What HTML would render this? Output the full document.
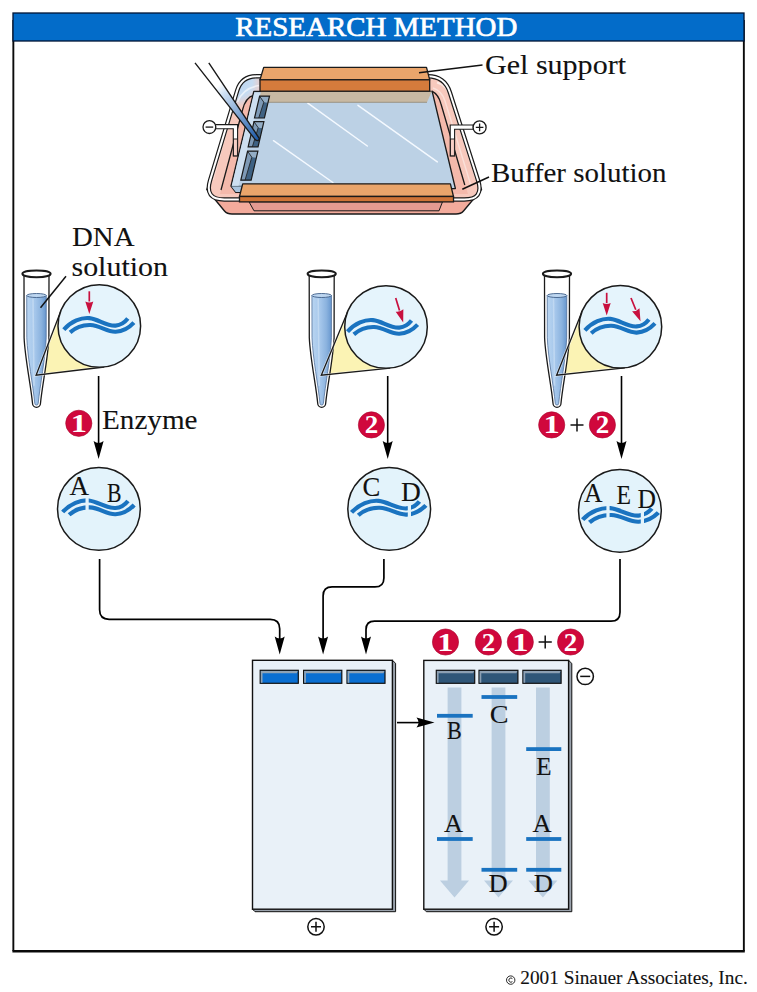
<!DOCTYPE html>
<html><head><meta charset="utf-8">
<style>
html,body{margin:0;padding:0;background:#fff;}
svg{display:block;}
text{font-family:"Liberation Serif",serif;}
</style></head>
<body>
<svg width="757" height="992" viewBox="0 0 757 992">
<defs>
  <linearGradient id="liq" x1="0" x2="1" y1="0" y2="0">
    <stop offset="0" stop-color="#b9d5f1"/>
    <stop offset="0.45" stop-color="#a3c5ea"/>
    <stop offset="0.75" stop-color="#8ab2de"/>
    <stop offset="1" stop-color="#6797cf"/>
  </linearGradient>
  <linearGradient id="pip" gradientUnits="userSpaceOnUse" x1="215" y1="88" x2="257" y2="140">
    <stop offset="0" stop-color="#ffffff"/>
    <stop offset="0.15" stop-color="#cfe1f4"/>
    <stop offset="1" stop-color="#1d5aa8"/>
  </linearGradient>
  <g id="wave">
    <path d="M-35.5,3.6 C-28,-4.7 -18,-8.7 -10,-7.9 C-1,-7 7,0.3 16.3,-0.4 C22,-0.8 26,-4.2 28.5,-7.4" fill="none" stroke="#1a73c0" stroke-width="4.1"/>
    <path d="M-29.2,6.4 C-22.7,0.6 -16,-1.2 -9,-1.0 C1,-0.4 8,6.2 16.3,5.8 C24,5.4 30.5,1 34.6,-3.4" fill="none" stroke="#1a73c0" stroke-width="4.1"/>
  </g>
</defs>

<path d="M13.35,20 V951 M743.85,20 V951" stroke="#0a0a0a" stroke-width="1.9" fill="none"/>
<path d="M12.4,951.3 H744.8" stroke="#0a0a0a" stroke-width="2.6"/>
<rect x="13" y="13" width="731" height="28" fill="#036cc9" stroke="#001535" stroke-width="1.3"/>
<text x="235.3" y="36" font-size="27.5" fill="#fff" stroke="#fff" stroke-width="0.65" textLength="282" lengthAdjust="spacingAndGlyphs">RESEARCH METHOD</text>
<path d="M214,172 L206.8,189.5 L224.5,211 Q227,214 232,214 L456,214 Q461,214 463.5,211 L481.5,189.5 L474,172 Z" fill="#f3ab9c" stroke="#1a1a1a" stroke-width="1.4" stroke-linejoin="round"/>
<path d="M256.50,76.30 L427.70,76.30 Q444.70,76.30 449.89,92.49 L478.09,180.45 Q484.20,199.50 464.20,199.50 L224.30,199.50 Q204.30,199.50 210.08,180.35 L237.16,90.66 Q241.50,76.30 256.50,76.30 Z" fill="#f7c9bd"/>
<radialGradient id="bluetint" gradientUnits="userSpaceOnUse" cx="238" cy="82" r="26"><stop offset="0" stop-color="#bcd6f2"/><stop offset="0.55" stop-color="#c6dcf2"/><stop offset="1" stop-color="#c6dcf2" stop-opacity="0"/></radialGradient>
<clipPath id="rimclip"><path d="M256.50,76.30 L427.70,76.30 Q444.70,76.30 449.89,92.49 L478.09,180.45 Q484.20,199.50 464.20,199.50 L224.30,199.50 Q204.30,199.50 210.08,180.35 L237.16,90.66 Q241.50,76.30 256.50,76.30 Z"/></clipPath>
<path d="M220,70 H270 V115 H220 Z" fill="url(#bluetint)" clip-path="url(#rimclip)"/>
<path d="M237.5,102 Q243,88 259,85.5" fill="none" stroke="#fff" stroke-width="1.6" opacity="0.6"/>
<path d="M437,82.5 Q447,85 450,96 L476,178" fill="none" stroke="#fdeae5" stroke-width="2.2"/>
<path d="M433,88 Q442,91 445,101 L470.5,184" fill="none" stroke="#fbe0d9" stroke-width="1.4"/>
<path d="M213,180 L232,112" fill="none" stroke="#fbe0d9" stroke-width="1.4" opacity="0.8"/>
<path d="M256.50,76.30 L427.70,76.30 Q444.70,76.30 449.89,92.49 L478.09,180.45 Q484.20,199.50 464.20,199.50 L224.30,199.50 Q204.30,199.50 210.08,180.35 L237.16,90.66 Q241.50,76.30 256.50,76.30 Z" fill="none" stroke="#1a1a1a" stroke-width="4.4"/>
<path d="M256.50,76.30 L427.70,76.30 Q444.70,76.30 449.89,92.49 L478.09,180.45 Q484.20,199.50 464.20,199.50 L224.30,199.50 Q204.30,199.50 210.08,180.35 L237.16,90.66 Q241.50,76.30 256.50,76.30 Z" fill="none" stroke="#fff" stroke-width="2.0"/>
<path d="M254,95.2 Q245.5,97.5 242.5,110 L220,194 L468,194 L441,104 Q437.5,93 430,91.5 Z" fill="#f4b9ab"/>
<path d="M254,95.2 Q245.5,97.5 242.5,110 L221,190" fill="none" stroke="#1a1a1a" stroke-width="1.3"/>
<path d="M432,91.2 Q438.5,94.5 441,104 L464.8,185" fill="none" stroke="#1a1a1a" stroke-width="1.3"/>
<path d="M215.5,124.6 H237.6 V156 H233.3 V128.8 H215.5 Z" fill="#fff" stroke="#1a1a1a" stroke-width="1.1"/>
<rect x="233.5" y="139" width="3.9" height="16.8" fill="#f6cfc6" stroke="#1a1a1a" stroke-width="0.9"/>
<circle cx="209.4" cy="127.1" r="6.4" fill="#fff" stroke="#1a1a1a" stroke-width="1.3"/>
<path d="M205.6,127.1 H213.2" stroke="#1a1a1a" stroke-width="1.3"/>
<path d="M473.3,125 H450.2 V156 H454.6 V129.2 H473.3 Z" fill="#fff" stroke="#1a1a1a" stroke-width="1.1"/>
<rect x="450.5" y="139" width="3.9" height="16.8" fill="#f6cfc6" stroke="#1a1a1a" stroke-width="0.9"/>
<circle cx="479.6" cy="127.4" r="6.5" fill="#fff" stroke="#1a1a1a" stroke-width="1.3"/>
<path d="M475.8,127.4 H483.4 M479.6,123.6 V131.2" stroke="#1a1a1a" stroke-width="1.3"/>
<path d="M253.8,91.5 L432.2,91.5 L455.4,188.5 L243,192.3 L235.8,192.3 L231,186 Z" fill="#bcd1e5" stroke="#1a1a1a" stroke-width="1.3" stroke-linejoin="round"/>
<path d="M231.5,186.4 L243,186.4 L243,192 L235.8,192 Z" fill="#a9c4de"/>
<path d="M231.5,186.2 L243,186.2" stroke="#4a5a6a" stroke-width="0.9"/>
<path d="M254.4,92.2 L261,92.2 L238.5,185.7 L231.9,185.7 Z" fill="#cddff0" stroke="none"/>
<g stroke="#f4f9ff" stroke-width="1.5" stroke-linecap="round">
<line x1="307.8" y1="103.2" x2="367.3" y2="146"/>
<line x1="358" y1="105.3" x2="437.3" y2="161.9"/>
<line x1="273.5" y1="140.7" x2="332.9" y2="182.5"/>
</g>
<path d="M261,91.5 L431.8,91.5 L427,102.3 L258.4,102.3 Z" fill="#c8b9a3"/>
<path d="M427,102.3 L258.4,102.3" stroke="#8f8674" stroke-width="0.8"/>
<path d="M259.6,96.2 L269.5,96.2 L264.42060000000004,118.0 L254.52060000000003,118.0 Z" fill="#3f6283"/>
<path d="M259.6,96.2 L263.8,102.2 L258.72060000000005,118.0 L254.52060000000003,118.0 Z" fill="#7e9ab6"/>
<path d="M259.6,96.2 L269.5,96.2 L267.9,102.7 L263.8,102.2 Z" fill="#93adc5"/>
<path d="M259.6,96.2 L263.8,102.2 L258.72060000000005,118.0" fill="none" stroke="#1a1a1a" stroke-width="0.8"/>
<path d="M259.6,96.2 L269.5,96.2 L264.42060000000004,118.0 L254.52060000000003,118.0 Z" fill="none" stroke="#1a1a1a" stroke-width="1.2"/>
<path d="M254.0,121.7 L263.9,121.7 L258.0517,146.8 L248.1517,146.8 Z" fill="#3f6283"/>
<path d="M254.0,121.7 L258.2,127.7 L252.3517,146.8 L248.1517,146.8 Z" fill="#7e9ab6"/>
<path d="M254.0,121.7 L263.9,121.7 L262.29999999999995,128.2 L258.2,127.7 Z" fill="#93adc5"/>
<path d="M254.0,121.7 L258.2,127.7 L252.3517,146.8" fill="none" stroke="#1a1a1a" stroke-width="0.8"/>
<path d="M254.0,121.7 L263.9,121.7 L258.0517,146.8 L248.1517,146.8 Z" fill="none" stroke="#1a1a1a" stroke-width="1.2"/>
<path d="M247.6,151.2 L257.9,151.2 L251.143,180.2 L240.843,180.2 Z" fill="#3f6283"/>
<path d="M247.6,151.2 L251.79999999999998,157.2 L245.04299999999998,180.2 L240.843,180.2 Z" fill="#7e9ab6"/>
<path d="M247.6,151.2 L257.9,151.2 L256.29999999999995,157.7 L251.79999999999998,157.2 Z" fill="#93adc5"/>
<path d="M247.6,151.2 L251.79999999999998,157.2 L245.04299999999998,180.2" fill="none" stroke="#1a1a1a" stroke-width="0.8"/>
<path d="M247.6,151.2 L257.9,151.2 L251.143,180.2 L240.843,180.2 Z" fill="none" stroke="#1a1a1a" stroke-width="1.2"/>
<path d="M263.7,67.4 L426.5,67.4 L429.7,79.8 L260,79.8 Z" fill="#eaa56b" stroke="#1a1a1a" stroke-width="1.3" stroke-linejoin="round"/>
<rect x="260" y="79.8" width="169.7" height="11.4" fill="#d57b3c" stroke="#1a1a1a" stroke-width="1.3"/>
<path d="M249,201.8 L442.5,201.8 L439,210.8 L254,210.8 Z" fill="#e49a91" stroke="#1a1a1a" stroke-width="1"/>
<path d="M242.7,183.8 L450.4,183.8 L453.5,196.5 L239.5,196.5 Z" fill="#eaa56b" stroke="#1a1a1a" stroke-width="1.3" stroke-linejoin="round"/>
<rect x="239.5" y="196.5" width="214" height="5.4" fill="#cf7437" stroke="#1a1a1a" stroke-width="1.3"/>
<path d="M195,62.9 L255.2,139.6 Q258.5,142 259.4,138.6 L208.8,62.9" fill="url(#pip)" stroke="none"/>
<path d="M195,62.9 L255.2,139.6 Q258.5,142 259.4,138.6 L208.8,62.9" fill="none" stroke="#1a1a1a" stroke-width="1.4"/>
<text x="485" y="74.0" font-size="27" fill="#111" textLength="141" lengthAdjust="spacingAndGlyphs" stroke="#111" stroke-width="0.1">Gel support</text>
<line x1="419" y1="72.8" x2="482.5" y2="65" stroke="#111" stroke-width="1.5"/>
<line x1="462.3" y1="189.2" x2="489" y2="177" stroke="#111" stroke-width="1.5"/>
<text x="491" y="181.5" font-size="27" fill="#111" textLength="175.5" lengthAdjust="spacingAndGlyphs" stroke="#111" stroke-width="0.1">Buffer solution</text>
<text x="72" y="245.7" font-size="27" fill="#111" textLength="62.5" lengthAdjust="spacingAndGlyphs" stroke="#111" stroke-width="0.1">DNA</text>
<text x="71.5" y="275.5" font-size="27" fill="#111" textLength="96.5" lengthAdjust="spacingAndGlyphs" stroke="#111" stroke-width="0.1">solution</text>
<path d="M36.1,375.2 L60.76,311.16 L99.3,326.0 L104.23,367.00 Z" fill="#fbf3b4" stroke="none"/>
<path d="M24.0,273.8 L24.1,337.8 C24.9,357.8 30.9,385.8 32.5,403.3 A4.0,4.0 0 0 0 40.5,403.3 C42.1,385.8 48.1,357.8 48.9,337.8 L49.0,273.8 Z" fill="#fff" stroke="#1a1a1a" stroke-width="1.3"/>
<clipPath id="lq36"><rect x="16.5" y="295.5" width="40" height="200"/></clipPath>
<path d="M26.7,273.8 L26.8,337.8 C27.6,357.8 33.06,385.8 34.795,403.3 A1.705,1.705 0 0 0 38.205,403.3 C39.94,385.8 45.4,357.8 46.2,337.8 L46.3,273.8 Z" fill="url(#liq)" stroke="#51709a" stroke-width="0.8" clip-path="url(#lq36)"/>
<path d="M33.0,298.5 L34.0,385.8" stroke="#cfe2f6" stroke-width="1.6" opacity="0.6"/>
<ellipse cx="36.5" cy="295.5" rx="9.8" ry="2.0" fill="#bdd6f0" stroke="#3f5f88" stroke-width="0.9"/>
<ellipse cx="36.5" cy="273.8" rx="14.1" ry="3.4" fill="#fff" stroke="#1a1a1a" stroke-width="2.0"/>
<path d="M60.76,311.16 L36.1,375.2 L104.23,367.00" fill="none" stroke="#fff" stroke-width="2.6" stroke-linejoin="miter" opacity="0.6"/>
<path d="M60.76,311.16 L36.1,375.2 L104.23,367.00" fill="none" stroke="#1a1a1a" stroke-width="1.3" stroke-linejoin="miter"/>
<circle cx="99.3" cy="326.0" r="41.3" fill="#e5f4fc" stroke="#1a1a1a" stroke-width="1.5"/>
<path d="M321.3,375.2 L347.85,311.18 L386.0,327.0 L390.24,368.08 Z" fill="#fbf3b4" stroke="none"/>
<path d="M309.2,273.8 L309.3,337.8 C310.09999999999997,357.8 316.09999999999997,385.8 317.7,403.3 A4.0,4.0 0 0 0 325.7,403.3 C327.3,385.8 333.3,357.8 334.09999999999997,337.8 L334.2,273.8 Z" fill="#fff" stroke="#1a1a1a" stroke-width="1.3"/>
<clipPath id="lq321"><rect x="301.7" y="295.5" width="40" height="200"/></clipPath>
<path d="M311.9,273.8 L312.0,337.8 C312.8,357.8 318.26,385.8 319.995,403.3 A1.705,1.705 0 0 0 323.405,403.3 C325.14,385.8 330.59999999999997,357.8 331.4,337.8 L331.5,273.8 Z" fill="url(#liq)" stroke="#51709a" stroke-width="0.8" clip-path="url(#lq321)"/>
<path d="M318.2,298.5 L319.2,385.8" stroke="#cfe2f6" stroke-width="1.6" opacity="0.6"/>
<ellipse cx="321.7" cy="295.5" rx="9.8" ry="2.0" fill="#bdd6f0" stroke="#3f5f88" stroke-width="0.9"/>
<ellipse cx="321.7" cy="273.8" rx="14.1" ry="3.4" fill="#fff" stroke="#1a1a1a" stroke-width="2.0"/>
<path d="M347.85,311.18 L321.3,375.2 L390.24,368.08" fill="none" stroke="#fff" stroke-width="2.6" stroke-linejoin="miter" opacity="0.6"/>
<path d="M347.85,311.18 L321.3,375.2 L390.24,368.08" fill="none" stroke="#1a1a1a" stroke-width="1.3" stroke-linejoin="miter"/>
<circle cx="386.0" cy="327.0" r="41.3" fill="#e5f4fc" stroke="#1a1a1a" stroke-width="1.5"/>
<path d="M556.6,375.2 L582.05,311.48 L620.4,326.8 L624.82,367.86 Z" fill="#fbf3b4" stroke="none"/>
<path d="M544.5,273.8 L544.6,337.8 C545.4,357.8 551.4,385.8 553.0,403.3 A4.0,4.0 0 0 0 561.0,403.3 C562.6,385.8 568.6,357.8 569.4,337.8 L569.5,273.8 Z" fill="#fff" stroke="#1a1a1a" stroke-width="1.3"/>
<clipPath id="lq557"><rect x="537.0" y="295.5" width="40" height="200"/></clipPath>
<path d="M547.2,273.8 L547.3,337.8 C548.1,357.8 553.56,385.8 555.295,403.3 A1.705,1.705 0 0 0 558.705,403.3 C560.44,385.8 565.9,357.8 566.7,337.8 L566.8,273.8 Z" fill="url(#liq)" stroke="#51709a" stroke-width="0.8" clip-path="url(#lq557)"/>
<path d="M553.5,298.5 L554.5,385.8" stroke="#cfe2f6" stroke-width="1.6" opacity="0.6"/>
<ellipse cx="557.0" cy="295.5" rx="9.8" ry="2.0" fill="#bdd6f0" stroke="#3f5f88" stroke-width="0.9"/>
<ellipse cx="557.0" cy="273.8" rx="14.1" ry="3.4" fill="#fff" stroke="#1a1a1a" stroke-width="2.0"/>
<path d="M582.05,311.48 L556.6,375.2 L624.82,367.86" fill="none" stroke="#fff" stroke-width="2.6" stroke-linejoin="miter" opacity="0.6"/>
<path d="M582.05,311.48 L556.6,375.2 L624.82,367.86" fill="none" stroke="#1a1a1a" stroke-width="1.3" stroke-linejoin="miter"/>
<circle cx="620.4" cy="326.8" r="41.3" fill="#e5f4fc" stroke="#1a1a1a" stroke-width="1.5"/>
<line x1="66" y1="276.3" x2="40.5" y2="307.7" stroke="#111" stroke-width="1.5"/>
<g transform="translate(99.3,326.0) scale(1.0,1)"><use href="#wave"/></g>
<g transform="translate(383.0,328.0) scale(1.0,1)"><use href="#wave"/></g>
<g transform="translate(620.4,326.8) scale(1.0,1)"><use href="#wave"/></g>
<line x1="89.3" y1="291.3" x2="89.30" y2="301.50" stroke="#c8103e" stroke-width="1.7"/>
<path d="M89.3,314 L85.30,301.50 Q89.30,303.50 93.30,301.50 Z" fill="#c8103e"/>
<line x1="395.7" y1="298" x2="399.53" y2="310.45" stroke="#c8103e" stroke-width="1.7"/>
<path d="M403.2,322.4 L395.70,311.63 Q400.11,312.36 403.35,309.28 Z" fill="#c8103e"/>
<line x1="606.7" y1="292.8" x2="606.70" y2="303.10" stroke="#c8103e" stroke-width="1.7"/>
<path d="M606.7,315.6 L602.70,303.10 Q606.70,305.10 610.70,303.10 Z" fill="#c8103e"/>
<line x1="631" y1="298" x2="635.78" y2="309.73" stroke="#c8103e" stroke-width="1.7"/>
<path d="M640.5,321.3 L632.08,311.24 Q636.54,311.58 639.48,308.21 Z" fill="#c8103e"/>
<line x1="98.6" y1="376" x2="98.6" y2="445" stroke="#000" stroke-width="1.6"/>
<path d="M98.6,459 L93.6,441 Q98.6,445 103.6,441 Z" fill="#000"/>
<line x1="387.7" y1="376" x2="387.7" y2="445" stroke="#000" stroke-width="1.6"/>
<path d="M387.7,459 L382.7,441 Q387.7,445 392.7,441 Z" fill="#000"/>
<line x1="621.5" y1="376" x2="621.5" y2="445" stroke="#000" stroke-width="1.6"/>
<path d="M621.5,459 L616.5,441 Q621.5,445 626.5,441 Z" fill="#000"/>
<text x="102" y="428.6" font-size="27.5" fill="#111" textLength="95.5" lengthAdjust="spacingAndGlyphs" stroke="#111" stroke-width="0.1">Enzyme</text>
<circle cx="78.8" cy="423.3" r="13.1" fill="#d0083c" stroke="#a8062e" stroke-width="0.6"/>
<text transform="translate(78.8,431.8) scale(1.3,1)" x="0" y="0" font-size="25" font-weight="bold" fill="#fff" text-anchor="middle">1</text>
<circle cx="371.4" cy="424.9" r="13.1" fill="#d0083c" stroke="#a8062e" stroke-width="0.6"/>
<text transform="translate(371.4,433.4) scale(1.08,1)" x="0" y="0" font-size="25" font-weight="bold" fill="#fff" text-anchor="middle">2</text>
<circle cx="551.7" cy="424.9" r="13.1" fill="#d0083c" stroke="#a8062e" stroke-width="0.6"/>
<text transform="translate(551.7,433.4) scale(1.3,1)" x="0" y="0" font-size="25" font-weight="bold" fill="#fff" text-anchor="middle">1</text>
<circle cx="602.4" cy="424.9" r="13.1" fill="#d0083c" stroke="#a8062e" stroke-width="0.6"/>
<text transform="translate(602.4,433.4) scale(1.08,1)" x="0" y="0" font-size="25" font-weight="bold" fill="#fff" text-anchor="middle">2</text>
<path d="M570.5,425 H583.5 M577,418.5 V431.5" stroke="#111" stroke-width="1.5"/>
<circle cx="98.9" cy="508.9" r="41.4" fill="#e3f3fb" stroke="#1a1a1a" stroke-width="1.5"/>
<circle cx="389.2" cy="508.9" r="41.4" fill="#e3f3fb" stroke="#1a1a1a" stroke-width="1.5"/>
<circle cx="619.9" cy="510.8" r="41.4" fill="#e3f3fb" stroke="#1a1a1a" stroke-width="1.5"/>
<clipPath id="cut98_508"><rect x="38.900000000000006" y="478.4" width="46.6" height="60"/><rect x="88.7" y="478.4" width="70.2" height="60"/></clipPath>
<g clip-path="url(#cut98_508)"><g transform="translate(98.9,508.4) scale(1.02,1)"><use href="#wave"/></g></g>
<clipPath id="cut389_508"><rect x="329.2" y="478.8" width="78.6" height="60"/><rect x="411.0" y="478.8" width="38.2" height="60"/></clipPath>
<g clip-path="url(#cut389_508)"><g transform="translate(389.2,508.8) scale(1.06,1)"><use href="#wave"/></g></g>
<clipPath id="cut621_516"><rect x="561.0" y="486.0" width="45.4" height="60"/><rect x="609.6" y="486.0" width="31.199999999999996" height="60"/><rect x="644.0" y="486.0" width="37.0" height="60"/></clipPath>
<g clip-path="url(#cut621_516)"><g transform="translate(621.0,516.0) scale(1.08,1)"><use href="#wave"/></g></g>
<text x="69.5" y="495" font-size="27" fill="#111" textLength="19.5" lengthAdjust="spacingAndGlyphs" stroke="#111" stroke-width="0.1">A</text>
<text x="107" y="502" font-size="27" fill="#111" textLength="14.5" lengthAdjust="spacingAndGlyphs" stroke="#111" stroke-width="0.1">B</text>
<text x="362.5" y="496.3" font-size="27" fill="#111" textLength="17.8" lengthAdjust="spacingAndGlyphs" stroke="#111" stroke-width="0.1">C</text>
<text x="401" y="501" font-size="27" fill="#111" textLength="19.8" lengthAdjust="spacingAndGlyphs" stroke="#111" stroke-width="0.1">D</text>
<text x="584" y="502.3" font-size="27" fill="#111" textLength="18.5" lengthAdjust="spacingAndGlyphs" stroke="#111" stroke-width="0.1">A</text>
<text x="616.5" y="503.6" font-size="27" fill="#111" textLength="14.5" lengthAdjust="spacingAndGlyphs" stroke="#111" stroke-width="0.1">E</text>
<text x="637.5" y="508.2" font-size="27" fill="#111" textLength="18.5" lengthAdjust="spacingAndGlyphs" stroke="#111" stroke-width="0.1">D</text>
<g stroke="#000" stroke-width="1.7" fill="none">
<path d="M99.6,559 V609.8 Q99.6,619.3 109.1,619.3 H270.2 Q279.7,619.3 279.7,628.8 V642"/>
<path d="M383.9,559 V577.9 Q383.9,586.9 374.9,586.9 H332.1 Q323.1,586.9 323.1,595.9 V642"/>
<path d="M620,559 V612.2 Q620,621.2 611,621.2 H374.5 Q366,621.2 366,629.7 V642"/>
</g>
<path d="M279.7,654.6 L274.7,636.6 Q279.7,640.6 284.7,636.6 Z" fill="#000"/>
<path d="M323.1,654.6 L318.1,636.6 Q323.1,640.6 328.1,636.6 Z" fill="#000"/>
<path d="M366.0,654.6 L361.0,636.6 Q366.0,640.6 371.0,636.6 Z" fill="#000"/>
<path d="M392.4,660.3 L395.59999999999997,663.3 L395.59999999999997,911.7 L255.0,911.7 L252.5,909.2 Z" fill="#9aa2ac" stroke="#111" stroke-width="1"/>
<rect x="252.5" y="660.3" width="139.89999999999998" height="248.9000000000001" fill="#e9f1f8" stroke="#111" stroke-width="1.4"/>
<rect x="260.2" y="670.3" width="38.10000000000002" height="13" fill="#0a6fd2" stroke="#111" stroke-width="1.2"/>
<path d="M260.8,670.9 H297.7 L296.8,673.3 H262.5 V682.7 L260.8,682.7 Z" fill="#8fa3b6"/>
<rect x="303.6" y="670.3" width="38.19999999999999" height="13" fill="#0a6fd2" stroke="#111" stroke-width="1.2"/>
<path d="M304.20000000000005,670.9 H341.2 L340.3,673.3 H305.90000000000003 V682.7 L304.20000000000005,682.7 Z" fill="#8fa3b6"/>
<rect x="347" y="670.3" width="38" height="13" fill="#0a6fd2" stroke="#111" stroke-width="1.2"/>
<path d="M347.6,670.9 H384.4 L383.5,673.3 H349.3 V682.7 L347.6,682.7 Z" fill="#8fa3b6"/>
<path d="M568.6,660.4 L571.8000000000001,663.4 L571.8000000000001,911.7 L426.3,911.7 L423.8,909.2 Z" fill="#9aa2ac" stroke="#111" stroke-width="1"/>
<rect x="423.8" y="660.4" width="144.8" height="248.80000000000007" fill="#e9f1f8" stroke="#111" stroke-width="1.4"/>
<rect x="436.3" y="670.3" width="38.39999999999998" height="13" fill="#2f5678" stroke="#111" stroke-width="1.2"/>
<path d="M436.90000000000003,670.9 H474.09999999999997 L473.2,673.3 H438.6 V682.7 L436.90000000000003,682.7 Z" fill="#8da0b3"/>
<rect x="479" y="670.3" width="38.89999999999998" height="13" fill="#2f5678" stroke="#111" stroke-width="1.2"/>
<path d="M479.6,670.9 H517.3 L516.4,673.3 H481.3 V682.7 L479.6,682.7 Z" fill="#8da0b3"/>
<rect x="522.9" y="670.3" width="38.200000000000045" height="13" fill="#2f5678" stroke="#111" stroke-width="1.2"/>
<path d="M523.5,670.9 H560.5 L559.6,673.3 H525.1999999999999 V682.7 L523.5,682.7 Z" fill="#8da0b3"/>
<path d="M447.6,687.6 H461.4 V880.4 H469.0 L454.5,897.4 L440.0,880.4 H447.6 Z" fill="#bccfe1"/>
<path d="M491.6,687.6 H505.4 V880.4 H513.0 L498.5,897.4 L484.0,880.4 H491.6 Z" fill="#bccfe1"/>
<path d="M536.0,687.6 H549.8 V880.4 H557.4 L542.9,897.4 L528.4,880.4 H536.0 Z" fill="#bccfe1"/>
<rect x="437" y="713.9" width="35.69999999999999" height="3.8" fill="#1a73c0"/>
<rect x="481.5" y="695.1" width="35.700000000000045" height="3.8" fill="#1a73c0"/>
<rect x="526.2" y="747.2" width="35.09999999999991" height="3.8" fill="#1a73c0"/>
<rect x="437" y="837.1" width="35.69999999999999" height="3.8" fill="#1a73c0"/>
<rect x="526.2" y="837.1" width="35.09999999999991" height="3.8" fill="#1a73c0"/>
<rect x="481.5" y="867.9" width="35.700000000000045" height="3.8" fill="#1a73c0"/>
<rect x="526.2" y="867.9" width="35.09999999999991" height="3.8" fill="#1a73c0"/>
<text x="447" y="739.1" font-size="25" fill="#111" textLength="14.8" lengthAdjust="spacingAndGlyphs" stroke="#111" stroke-width="0.1">B</text>
<text x="489.8" y="723.3" font-size="25" fill="#111" textLength="18.8" lengthAdjust="spacingAndGlyphs" stroke="#111" stroke-width="0.1">C</text>
<text x="536.2" y="775" font-size="25" fill="#111" textLength="15.3" lengthAdjust="spacingAndGlyphs" stroke="#111" stroke-width="0.1">E</text>
<text x="444" y="832.2" font-size="26" fill="#111" textLength="19" lengthAdjust="spacingAndGlyphs" stroke="#111" stroke-width="0.1">A</text>
<text x="532.5" y="832.2" font-size="26" fill="#111" textLength="19" lengthAdjust="spacingAndGlyphs" stroke="#111" stroke-width="0.1">A</text>
<text x="488.5" y="891.7" font-size="25" fill="#111" textLength="19.2" lengthAdjust="spacingAndGlyphs" stroke="#111" stroke-width="0.1">D</text>
<text x="533.7" y="891.7" font-size="25" fill="#111" textLength="19.2" lengthAdjust="spacingAndGlyphs" stroke="#111" stroke-width="0.1">D</text>
<line x1="397" y1="722.6" x2="420.5" y2="722.6" stroke="#000" stroke-width="1.6"/>
<path d="M434.5,722.6 L416.5,717.6 Q420.5,722.6 416.5,727.6 Z" fill="#000"/>
<circle cx="445.5" cy="642" r="13.1" fill="#d0083c" stroke="#a8062e" stroke-width="0.6"/>
<text transform="translate(445.5,650.5) scale(1.3,1)" x="0" y="0" font-size="25" font-weight="bold" fill="#fff" text-anchor="middle">1</text>
<circle cx="488.4" cy="642" r="13.1" fill="#d0083c" stroke="#a8062e" stroke-width="0.6"/>
<text transform="translate(488.4,650.5) scale(1.08,1)" x="0" y="0" font-size="25" font-weight="bold" fill="#fff" text-anchor="middle">2</text>
<circle cx="520.3" cy="642" r="13.1" fill="#d0083c" stroke="#a8062e" stroke-width="0.6"/>
<text transform="translate(520.3,650.5) scale(1.3,1)" x="0" y="0" font-size="25" font-weight="bold" fill="#fff" text-anchor="middle">1</text>
<circle cx="570.6" cy="642" r="13.1" fill="#d0083c" stroke="#a8062e" stroke-width="0.6"/>
<text transform="translate(570.6,650.5) scale(1.08,1)" x="0" y="0" font-size="25" font-weight="bold" fill="#fff" text-anchor="middle">2</text>
<path d="M538.6,642 H551.8 M545.2,635.4 V648.6" stroke="#111" stroke-width="1.5"/>
<circle cx="316" cy="926.8" r="8.2" fill="#fff" stroke="#111" stroke-width="1.5"/>
<path d="M311,926.8 H321 M316,921.8 V931.8" stroke="#111" stroke-width="1.5"/>
<circle cx="494.1" cy="926.8" r="8.2" fill="#fff" stroke="#111" stroke-width="1.5"/>
<path d="M489.1,926.8 H499.1 M494.1,921.8 V931.8" stroke="#111" stroke-width="1.5"/>
<circle cx="585.2" cy="676.4" r="8.2" fill="#fff" stroke="#111" stroke-width="1.5"/>
<path d="M580.2,676.4 H590.2" stroke="#111" stroke-width="1.5"/>
<circle cx="510.7" cy="980.1" r="4.2" fill="none" stroke="#111" stroke-width="0.9"/>
<path d="M512.4,978.6 A2.1,2.1 0 1 0 512.4,981.6" fill="none" stroke="#111" stroke-width="0.9"/>
<text x="520.3" y="984.4" font-size="19" fill="#111" textLength="227.5" lengthAdjust="spacingAndGlyphs" stroke="#111" stroke-width="0.1">2001 Sinauer Associates, Inc.</text>
</svg>
</body></html>
